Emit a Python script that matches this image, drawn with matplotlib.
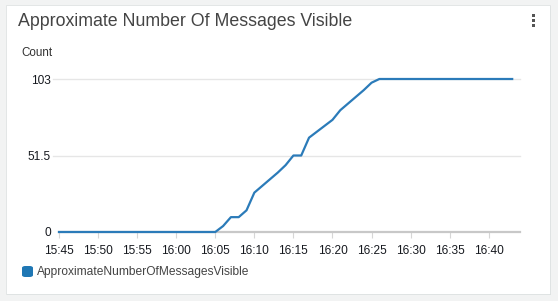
import matplotlib
matplotlib.use("Agg")
import matplotlib.pyplot as plt
from matplotlib.patches import FancyBboxPatch, Rectangle

plt.rcParams['font.family'] = ['Liberation Sans', 'DejaVu Sans']

# data (time of day, count)
times = ["15:45", "16:05", "16:06", "16:07", "16:08", "16:09", "16:10", "16:11", "16:12",
         "16:13", "16:14", "16:15", "16:16", "16:17", "16:18", "16:19", "16:20", "16:21",
         "16:22", "16:23", "16:24", "16:25", "16:26", "16:43"]
counts = [0, 0, 4, 10, 10, 14.6, 26.5, 31, 35.5, 40, 45, 51.5, 51.5, 63.5, 67.5, 71.5,
          75.5, 82, 86.5, 91, 95.5, 100.5, 103, 103]
tick_labels = ["15:45", "15:50", "15:55", "16:00", "16:05", "16:10", "16:15", "16:20",
               "16:25", "16:30", "16:35", "16:40"]
y_ticks = [0, 51.5, 103]
y_tick_labels = ["0", "51.5", "103"]
series_name = "ApproximateNumberOfMessagesVisible"


def to_min(s):
    h, m = s.split(":")
    return int(h) * 60 + int(m)


x = [to_min(t) for t in times]
xt = [to_min(t) for t in tick_labels]

W, H = 558, 301
fig = plt.figure(figsize=(W / 100, H / 100), dpi=100)
fig.patch.set_facecolor("#f2f3f3")

# white card with a light shadow on the right and bottom
shadow = Rectangle((6.5 / W, 5.7 / H), 544.5 / W, 289.6 / H, transform=fig.transFigure,
                   facecolor="#c9cdcd", edgecolor="none", zorder=-11)
card = Rectangle((5.5 / W, 6.7 / H), 544.5 / W, 289.6 / H, transform=fig.transFigure,
                 facecolor="white", edgecolor="#dfe3e3", linewidth=0.6, zorder=-10)
fig.patches.append(shadow)
fig.patches.append(card)

ax = fig.add_axes([59 / W, 1 - 232 / H, (520 - 59) / W, (232 - 79) / H])
ax.set_facecolor("none")
line_color = "#2b7bb9"
ax.plot(x, counts, color=line_color, linewidth=1.6, clip_on=False, zorder=3)

ax.set_xlim(to_min("15:45"), to_min("15:45") + 59)
ax.set_ylim(0, 103)
ax.set_xticks(xt)
ax.set_xticklabels(tick_labels)
ax.set_yticks(y_ticks)
ax.set_yticklabels(y_tick_labels)

for v in y_ticks[1:]:
    ax.axhline(v, xmin=-0.013, xmax=1, color="#e6e6e6", linewidth=1, zorder=1, clip_on=False)
for side in ["top", "right", "left"]:
    ax.spines[side].set_visible(False)
ax.spines["bottom"].set_color("#c8c8c8")
ax.spines["bottom"].set_linewidth(1.6)
ax.tick_params(axis="x", length=4, color="#d6d6d6", labelsize=8.6, labelcolor="#16191f", pad=5)
ax.tick_params(axis="y", length=0, labelsize=8.6, labelcolor="#16191f", pad=6)

fig.text(18 / W, 1 - 22 / H, "Approximate Number Of Messages Visible", fontsize=12.8,
         color="#444444", va="center", ha="left")
fig.text(21 / W, 1 - 53 / H, "Count", fontsize=8.4, color="#333333", va="center", ha="left")

# menu dots
for cy in (15.7, 20.3, 25):
    fig.patches.append(Rectangle((531.5 / W, 1 - (cy + 1.5) / H), 3 / W, 3 / H,
                                 transform=fig.transFigure, facecolor="#555555",
                                 edgecolor="none"))

# legend
fig.patches.append(FancyBboxPatch((22 / W, 1 - 277 / H), 11 / W, 11 / H,
                                  boxstyle="round,pad=0,rounding_size=0.006",
                                  transform=fig.transFigure, facecolor="#1f77b4",
                                  edgecolor="none"))
fig.text(37 / W, 1 - 272 / H, series_name, fontsize=8.65, color="#444444",
         va="center", ha="left")

fig.savefig("out.png", dpi=100, facecolor=fig.get_facecolor())
